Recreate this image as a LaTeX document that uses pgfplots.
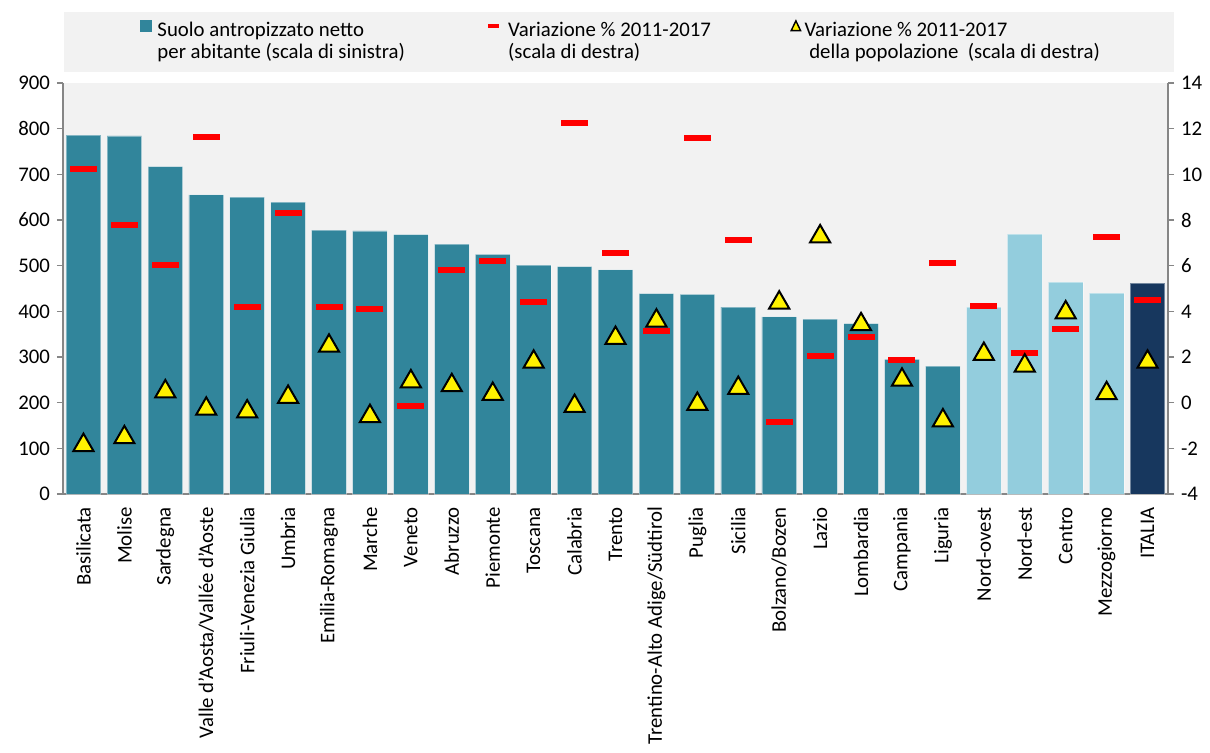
\documentclass[border=0pt]{standalone}
\usepackage{fontspec}
\setmainfont{Carlito}
\usepackage{pgfplots}
\pgfplotsset{compat=1.18}

\definecolor{barteal}{RGB}{49,133,155}
\definecolor{barlight}{RGB}{147,205,221}
\definecolor{barnavy}{RGB}{23,55,94}
\definecolor{bggray}{RGB}{242,242,242}
\definecolor{axgray}{RGB}{134,134,134}

\newcommand{\cf}{\fontsize{10.4}{11}\selectfont}

\begin{document}
\begin{tikzpicture}
\path[use as bounding box] (-31.5pt,-129pt) rectangle (573.5pt,247pt);
% fondo della legenda
\fill[bggray] (0.5pt,211.2pt) rectangle (555.5pt,241.2pt);

\begin{axis}[
  scale only axis,
  width=552.5pt, height=205.5pt,
  xmin=-0.5, xmax=26.5,
  ymin=0, ymax=900,
  ytick={0,100,...,900},
  axis x line*=bottom, axis y line*=left,
  axis line style={draw=axgray, line width=0.8pt},
  axis background/.style={fill=bggray},
  tick align=outside, major tick length=3pt,
  ytick style={draw=axgray, line width=0.8pt},
  xtick style={draw=none},
  xtick={0,...,26},
  xticklabels={Basilicata,Molise,Sardegna,{Valle d'Aosta/Vallée d'Aoste},Friuli-Venezia Giulia,Umbria,Emilia-Romagna,Marche,Veneto,Abruzzo,Piemonte,Toscana,Calabria,Trento,Trentino-Alto Adige/Südtirol,Puglia,Sicilia,Bolzano/Bozen,Lazio,Lombardia,Campania,Liguria,Nord-ovest,Nord-est,Centro,Mezzogiorno,ITALIA},
  x tick label style={rotate=90, anchor=east, font=\cf},
  y tick label style={font=\cf},
  /pgf/number format/assume math mode=true,
]
\addplot[ybar, bar width=17.3pt, bar shift=0pt, fill=barteal, draw=white, draw opacity=0.4, line width=0.4pt]
coordinates {
(0,786) (1,784) (2,717) (3,655) (4,650) (5,639) (6,578) (7,576) (8,568)
(9,547) (10,525) (11,501) (12,498) (13,491) (14,439) (15,437) (16,409)
(17,388) (18,383) (19,373) (20,295) (21,280)
};
\addplot[ybar, bar width=17.3pt, bar shift=0pt, fill=barlight, draw=white, draw opacity=0.4, line width=0.4pt]
coordinates {(22,409) (23,569) (24,464) (25,440)};
\addplot[ybar, bar width=17.3pt, bar shift=0pt, fill=barnavy, draw=white, draw opacity=0.4, line width=0.4pt]
coordinates {(26,462)};
\end{axis}

\begin{axis}[
  scale only axis,
  width=552.5pt, height=205.5pt,
  xmin=-0.5, xmax=26.5,
  ymin=-4, ymax=14,
  ytick={-4,-2,...,14},
  yticklabels={-4,-2,0,2,4,6,8,10,12,14},
  axis y line*=right, axis x line=none,
  axis line style={draw=axgray, line width=0.8pt},
  tick align=outside, major tick length=3pt,
  ytick style={draw=axgray, line width=0.8pt},
  y tick label style={font=\cf},
  legend columns=3,
  legend style={
    at={(0.06905,1.1547)}, anchor=north west,
    draw=none, fill=none, inner sep=0pt, font=\cf,
    nodes={inner sep=0pt},
    /tikz/column 1/.style={column sep=3pt},
    /tikz/column 3/.style={column sep=3.35pt},
    /tikz/column 5/.style={column sep=1.65pt},
  },
]
\addlegendimage{legend image code/.code={\fill[barteal] (0pt,0pt) rectangle (5.5pt,5.5pt);}}
\addlegendentry{\parbox[t]{164.5pt}{Suolo antropizzato netto\\per abitante (scala di sinistra)}}

\addplot[only marks, mark=-, mark size=6.75pt, color=red, mark options={line width=3pt},
  legend image code/.code={\draw[red, line width=2pt] (0pt,2.6pt) -- (5.5pt,2.6pt);}]
coordinates {
(0,10.25) (1,7.80) (2,6.04) (3,11.65) (4,4.19) (5,8.32) (6,4.20) (7,4.12) (8,-0.15)
(9,5.81) (10,6.22) (11,4.41) (12,12.26) (13,6.56) (14,3.15) (15,11.61) (16,7.13)
(17,-0.83) (18,2.06) (19,2.89) (20,1.87) (21,6.13) (22,4.25) (23,2.19) (24,3.24)
(25,7.27) (26,4.50)
};
\addlegendentry{\parbox[t]{141.15pt}{Variazione \% 2011-2017\\(scala di destra)}}

\addplot[only marks, mark=triangle*, mark size=5.8pt,
  mark options={fill=yellow, draw=black, line width=1pt, yshift=-1.4pt},
  legend image code/.code={\draw[fill=yellow, draw=black, line width=0.7pt] (0.4pt,0.3pt) -- (5.1pt,0.3pt) -- (2.75pt,5.2pt) -- cycle;}]
coordinates {
(0,-1.74) (1,-1.40) (2,0.61) (3,-0.15) (4,-0.27) (5,0.37) (6,2.61) (7,-0.47) (8,1.05)
(9,0.88) (10,0.50) (11,1.91) (12,-0.03) (13,2.95) (14,3.71) (15,0.06) (16,0.76)
(17,4.50) (18,7.40) (19,3.55) (20,1.12) (21,-0.66) (22,2.25) (23,1.74) (24,4.07)
(25,0.53) (26,1.91)
};
\addlegendentry{\parbox[t]{160pt}{Variazione \% 2011-2017\\\hspace*{2.35pt}della popolazione\ \ (scala di destra)}}
\end{axis}
\end{tikzpicture}
\end{document}
